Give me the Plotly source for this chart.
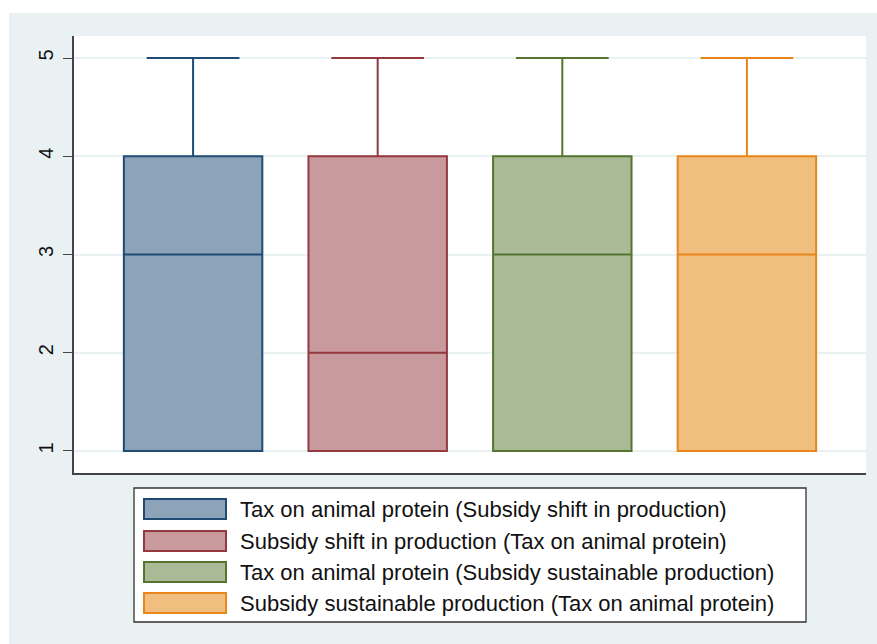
import plotly.graph_objects as go

categories = [
    "Tax on animal protein (Subsidy shift in production)",
    "Subsidy shift in production (Tax on animal protein)",
    "Tax on animal protein (Subsidy sustainable production)",
    "Subsidy sustainable production (Tax on animal protein)",
]
lower_fence = [1, 1, 1, 1]
q1 = [1, 1, 1, 1]
median = [3, 2, 3, 3]
q3 = [4, 4, 4, 4]
upper_fence = [5, 5, 5, 5]
y_ticks = [1, 2, 3, 4, 5]

line_colors = ["#1F4B75", "#93393F", "#55752F", "#E8861A"]
fill_colors = ["#8DA3B7", "#C89A9D", "#AABA97", "#F0BF7F"]

W, H = 877, 644
L, R, T, B = 74, 866, 36, 473
BG = "#EAF1F3"

fig = go.Figure()
for i, name in enumerate(categories):
    fig.add_trace(go.Box(
        x=[i], q1=[q1[i]], median=[median[i]], q3=[q3[i]],
        lowerfence=[lower_fence[i]], upperfence=[upper_fence[i]],
        name=name, width=0.75, whiskerwidth=0.67,
        fillcolor=fill_colors[i],
        line=dict(color=line_colors[i], width=2),
        boxpoints=False, showlegend=False,
    ))

pw, ph = R - L, B - T
def px(x):
    return (x - L) / pw
def py(y):
    return (B - y) / ph

shapes = [
    # white strips at top and left of the outer background
    dict(type="rect", xref="paper", yref="paper", x0=px(0), x1=px(W), y0=py(13), y1=py(0),
         fillcolor="white", line=dict(width=0), layer="below"),
    dict(type="rect", xref="paper", yref="paper", x0=px(0), x1=px(9), y0=py(H), y1=py(0),
         fillcolor="white", line=dict(width=0), layer="below"),
    # legend frame
    dict(type="rect", xref="paper", yref="paper", x0=px(134), x1=px(806), y0=py(622), y1=py(488),
         fillcolor="white", line=dict(color="#333333", width=1.3)),
]
annotations = []
row_y = [509, 541, 572, 603]
for i, name in enumerate(categories):
    yc = row_y[i]
    shapes.append(dict(type="rect", xref="paper", yref="paper",
                       x0=px(144), x1=px(226), y0=py(yc + 10), y1=py(yc - 10),
                       fillcolor=fill_colors[i], line=dict(color=line_colors[i], width=2)))
    annotations.append(dict(xref="paper", yref="paper", x=px(238), y=py(yc),
                            text=name, showarrow=False, xanchor="left", yanchor="middle",
                            font=dict(family="Liberation Sans, Arial", size=22, color="#111111")))

fig.update_layout(
    width=W, height=H,
    margin=dict(l=L, r=W - R, t=T, b=H - B, pad=0),
    paper_bgcolor=BG, plot_bgcolor="white",
    font=dict(family="Liberation Sans, Arial", color="#111111"),
    showlegend=False,
    shapes=shapes, annotations=annotations,
    xaxis=dict(range=[-0.645, 3.645], showticklabels=False, ticks="", showgrid=False,
               zeroline=False, showline=True, linecolor="#444444", linewidth=1.5),
    yaxis=dict(range=[0.776, 5.224], tickvals=y_ticks, ticktext=[str(v) for v in y_ticks],
               tickangle=-90, ticks="outside", ticklen=9, tickcolor="#444444", tickwidth=1.3,
               ticklabelstandoff=2,
               tickfont=dict(size=20, color="#111111"),
               showgrid=True, gridcolor="#EAF1F3", gridwidth=1.5, zeroline=False,
               showline=True, linecolor="#444444", linewidth=1.5),
)

fig.write_html("out.html")
